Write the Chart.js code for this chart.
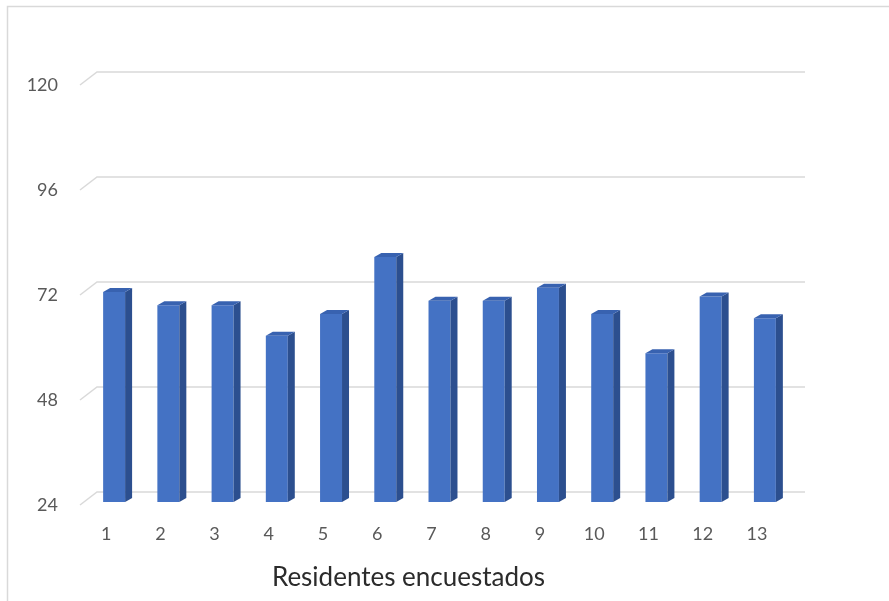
<!DOCTYPE html>
<html>
<head>
<meta charset="utf-8">
<script src="https://cdn.jsdelivr.net/npm/chart.js@4.4.1/dist/chart.umd.min.js"></script>
<style>
    body { margin: 0; background: #ffffff; }
    #wrap { width: 889px; height: 601px; }
</style>
</head>
<body>
<div id="wrap"><canvas id="myChart" width="889" height="601"></canvas></div>
<script>
const categories = ["1", "2", "3", "4", "5", "6", "7", "8", "9", "10", "11", "12", "13"];
const residentValues = [72, 69, 69, 62, 67, 80, 70, 70, 73, 67, 58, 71, 66];
const yTickValues = [24, 48, 72, 96, 120];
const xAxisTitle = "Residentes encuestados";

const labelFont = { family: "Lato", size: 18 };

// thin grey frame of the excel chart box
const frameBorder = {
    id: "frameBorder",
    beforeDraw(chart) {
        const ctx = chart.ctx;
        ctx.save();
        ctx.fillStyle = "#ffffff";
        ctx.fillRect(0, 0, chart.width, chart.height);
        ctx.strokeStyle = "#d9d9d9";
        ctx.lineWidth = 1.5;
        ctx.beginPath();
        ctx.moveTo(7.5, chart.height);
        ctx.lineTo(7.5, 6.5);
        ctx.lineTo(chart.width, 6.5);
        ctx.stroke();
        ctx.restore();
    }
};

// gridlines on the back wall, with the slanted bit on the left side
const backWall = {
    id: "backWall",
    beforeDatasetsDraw(chart) {
        const { ctx, chartArea, scales } = chart;
        ctx.save();
        ctx.strokeStyle = "#d9d9d9";
        ctx.lineWidth = 1.5;
        yTickValues.forEach(v => {
            const py = scales.y.getPixelForValue(v);
            ctx.beginPath();
            ctx.moveTo(chartArea.left - 7, py + 3);
            ctx.lineTo(chartArea.left + 10, py - 10);
            ctx.lineTo(chartArea.right + 13, py - 10);
            ctx.stroke();
        });
        ctx.restore();
    }
};

// side + top faces so the columns look 3d
const barDepth = {
    id: "barDepth",
    afterDatasetsDraw(chart) {
        const ctx = chart.ctx;
        const dx = 7, dy = 4;
        ctx.save();
        chart.getDatasetMeta(0).data.forEach(bar => {
            const { x, y, base, width } = bar.getProps(["x", "y", "base", "width"], true);
            const l = x - width / 2;
            const r = x + width / 2;

            ctx.fillStyle = "#2c4f8f";
            ctx.beginPath();
            ctx.moveTo(r, y);
            ctx.lineTo(r + dx, y - dy);
            ctx.lineTo(r + dx, base - dy);
            ctx.lineTo(r, base);
            ctx.closePath();
            ctx.fill();

            ctx.fillStyle = "#3862b0";
            ctx.beginPath();
            ctx.moveTo(l, y);
            ctx.lineTo(l + dx, y - dy);
            ctx.lineTo(r + dx, y - dy);
            ctx.lineTo(r, y);
            ctx.closePath();
            ctx.fill();
        });
        ctx.restore();
    }
};

new Chart("myChart", {
    type: "bar",
    data: {
        labels: categories,
        datasets: [{
            data: residentValues,
            base: yTickValues[0],
            backgroundColor: "#4472c4",
            borderWidth: 0,
            categoryPercentage: 1,
            barPercentage: 0.405
        }]
    },
    options: {
        responsive: false,
        animation: false,
        layout: {
            padding: { top: 82, left: 25, right: 97, bottom: 7.8 }
        },
        scales: {
            x: {
                grid: { display: false, drawTicks: false },
                border: { display: false },
                ticks: {
                    color: "#595959",
                    font: labelFont,
                    padding: 21,
                    labelOffset: -8,
                    maxRotation: 0
                },
                afterFit: scale => { scale.height = 47; }
            },
            y: {
                min: yTickValues[0],
                max: yTickValues[yTickValues.length - 1],
                grid: { display: false, drawTicks: false },
                border: { display: false },
                ticks: {
                    stepSize: 24,
                    color: "#595959",
                    font: labelFont,
                    padding: 29,
                    labelOffset: 3
                },
                afterBuildTicks: scale => {
                    scale.ticks = yTickValues.map(v => ({ value: v }));
                },
                afterFit: scale => { scale.width = 62; }
            }
        },
        plugins: {
            legend: { display: false },
            tooltip: { enabled: false },
            title: {
                display: true,
                position: "bottom",
                text: xAxisTitle,
                color: "#2b2b2b",
                font: { family: "Lato", size: 26, weight: "normal" },
                padding: { top: 13, bottom: 0 }
            }
        }
    },
    plugins: [frameBorder, backWall, barDepth]
});
</script>
</body>
</html>
